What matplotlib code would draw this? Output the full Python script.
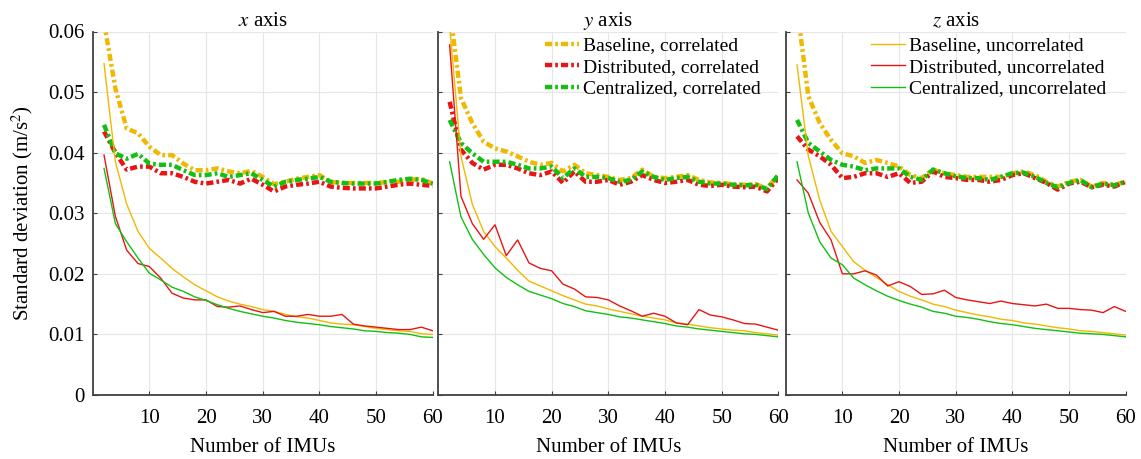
import matplotlib
matplotlib.use("Agg")
import matplotlib.pyplot as plt
import numpy as np

plt.rcParams['font.family'] = ['Liberation Serif', 'DejaVu Serif']
plt.rcParams['mathtext.fontset'] = 'stix'

n_imus = list(range(2, 61, 2))

# x axis
x_bc = [0.0615, 0.0506, 0.0440, 0.0432, 0.0410, 0.0396, 0.0396, 0.0382, 0.0371, 0.0371, 0.0374, 0.0369, 0.0366, 0.0370, 0.0360,
        0.0348, 0.0352, 0.0357, 0.0360, 0.0363, 0.0352, 0.0350, 0.0350, 0.0350, 0.0350, 0.0351, 0.0352, 0.0355, 0.0357, 0.0349]
x_dc = [0.0435, 0.0400, 0.0372, 0.0377, 0.0377, 0.0366, 0.0366, 0.0360, 0.0352, 0.0349, 0.0352, 0.0355, 0.0349, 0.0357, 0.0347,
        0.0336, 0.0344, 0.0347, 0.0349, 0.0352, 0.0344, 0.0342, 0.0341, 0.0341, 0.0341, 0.0344, 0.0347, 0.0349, 0.0347, 0.0345]
x_cc = [0.0446, 0.0399, 0.0390, 0.0398, 0.0382, 0.0380, 0.0380, 0.0371, 0.0363, 0.0363, 0.0366, 0.0360, 0.0363, 0.0366, 0.0355,
        0.0344, 0.0352, 0.0355, 0.0357, 0.0360, 0.0352, 0.0350, 0.0349, 0.0349, 0.0349, 0.0352, 0.0355, 0.0357, 0.0355, 0.0349]
x_bu = [0.0547, 0.0385, 0.0315, 0.0270, 0.0242, 0.0226, 0.0209, 0.0195, 0.0182, 0.0172, 0.0162, 0.0155, 0.0150, 0.0146, 0.0141,
        0.0138, 0.0133, 0.0129, 0.0127, 0.0123, 0.0119, 0.0117, 0.0116, 0.0113, 0.0110, 0.0108, 0.0106, 0.0105, 0.0101, 0.0100]
x_du = [0.0396, 0.0295, 0.0239, 0.0217, 0.0212, 0.0193, 0.0168, 0.0160, 0.0157, 0.0157, 0.0146, 0.0145, 0.0147, 0.0141, 0.0136,
        0.0138, 0.0130, 0.0130, 0.0133, 0.0130, 0.0130, 0.0133, 0.0117, 0.0114, 0.0112, 0.0110, 0.0108, 0.0108, 0.0112, 0.0106]
x_cu = [0.0374, 0.0283, 0.0253, 0.0226, 0.0201, 0.0190, 0.0178, 0.0171, 0.0162, 0.0156, 0.0149, 0.0143, 0.0138, 0.0134, 0.0130,
        0.0127, 0.0123, 0.0120, 0.0118, 0.0116, 0.0113, 0.0111, 0.0109, 0.0106, 0.0105, 0.0103, 0.0102, 0.0100, 0.0096, 0.0095]

# y axis
y_bc = [0.0640, 0.0490, 0.0449, 0.0418, 0.0407, 0.0402, 0.0394, 0.0385, 0.0380, 0.0383, 0.0369, 0.0380, 0.0366, 0.0363, 0.0360,
        0.0355, 0.0358, 0.0372, 0.0360, 0.0358, 0.0360, 0.0363, 0.0355, 0.0351, 0.0350, 0.0348, 0.0347, 0.0348, 0.0341, 0.0363]
y_dc = [0.0484, 0.0405, 0.0383, 0.0372, 0.0380, 0.0380, 0.0374, 0.0366, 0.0363, 0.0369, 0.0350, 0.0369, 0.0352, 0.0352, 0.0355,
        0.0347, 0.0352, 0.0363, 0.0355, 0.0350, 0.0352, 0.0355, 0.0347, 0.0345, 0.0347, 0.0344, 0.0343, 0.0344, 0.0336, 0.0358]
y_cc = [0.0454, 0.0416, 0.0399, 0.0385, 0.0385, 0.0385, 0.0380, 0.0374, 0.0374, 0.0377, 0.0358, 0.0374, 0.0360, 0.0360, 0.0358,
        0.0352, 0.0355, 0.0369, 0.0360, 0.0355, 0.0358, 0.0360, 0.0352, 0.0349, 0.0349, 0.0347, 0.0346, 0.0347, 0.0340, 0.0363]
y_bu = [0.0610, 0.0394, 0.0315, 0.0270, 0.0245, 0.0226, 0.0206, 0.0188, 0.0180, 0.0172, 0.0164, 0.0157, 0.0150, 0.0147, 0.0142,
        0.0138, 0.0134, 0.0130, 0.0127, 0.0124, 0.0119, 0.0117, 0.0114, 0.0111, 0.0109, 0.0107, 0.0106, 0.0103, 0.0101, 0.0099]
y_du = [0.0578, 0.0328, 0.0283, 0.0257, 0.0281, 0.0230, 0.0256, 0.0218, 0.0209, 0.0205, 0.0183, 0.0175, 0.0162, 0.0161, 0.0157,
        0.0147, 0.0139, 0.0130, 0.0135, 0.0130, 0.0119, 0.0116, 0.0141, 0.0132, 0.0129, 0.0124, 0.0118, 0.0117, 0.0112, 0.0107]
y_cu = [0.0385, 0.0294, 0.0257, 0.0232, 0.0210, 0.0194, 0.0182, 0.0171, 0.0165, 0.0159, 0.0151, 0.0146, 0.0139, 0.0136, 0.0133,
        0.0129, 0.0127, 0.0124, 0.0121, 0.0118, 0.0114, 0.0112, 0.0109, 0.0107, 0.0105, 0.0103, 0.0101, 0.0100, 0.0098, 0.0096]

# z axis
z_bc = [0.0640, 0.0493, 0.0449, 0.0421, 0.0399, 0.0394, 0.0383, 0.0388, 0.0383, 0.0377, 0.0363, 0.0358, 0.0372, 0.0366, 0.0363,
        0.0360, 0.0360, 0.0360, 0.0360, 0.0366, 0.0369, 0.0363, 0.0352, 0.0344, 0.0352, 0.0355, 0.0344, 0.0350, 0.0347, 0.0352]
z_dc = [0.0427, 0.0405, 0.0394, 0.0380, 0.0358, 0.0360, 0.0366, 0.0366, 0.0360, 0.0366, 0.0350, 0.0352, 0.0369, 0.0360, 0.0358,
        0.0355, 0.0355, 0.0352, 0.0355, 0.0363, 0.0366, 0.0358, 0.0350, 0.0339, 0.0349, 0.0352, 0.0343, 0.0347, 0.0344, 0.0352]
z_cc = [0.0454, 0.0416, 0.0402, 0.0388, 0.0380, 0.0377, 0.0371, 0.0374, 0.0374, 0.0374, 0.0360, 0.0355, 0.0372, 0.0366, 0.0361,
        0.0358, 0.0358, 0.0355, 0.0360, 0.0366, 0.0367, 0.0360, 0.0350, 0.0343, 0.0350, 0.0355, 0.0343, 0.0349, 0.0346, 0.0352]
z_bu = [0.0545, 0.0394, 0.0322, 0.0270, 0.0245, 0.0220, 0.0206, 0.0194, 0.0182, 0.0171, 0.0163, 0.0157, 0.0150, 0.0146, 0.0140,
        0.0136, 0.0132, 0.0129, 0.0125, 0.0123, 0.0119, 0.0117, 0.0114, 0.0111, 0.0109, 0.0106, 0.0105, 0.0103, 0.0101, 0.0099]
z_du = [0.0355, 0.0333, 0.0285, 0.0256, 0.0200, 0.0200, 0.0205, 0.0198, 0.0180, 0.0187, 0.0179, 0.0166, 0.0167, 0.0173, 0.0161,
        0.0157, 0.0154, 0.0151, 0.0155, 0.0151, 0.0149, 0.0147, 0.0150, 0.0143, 0.0143, 0.0141, 0.0140, 0.0136, 0.0146, 0.0138]
z_cu = [0.0385, 0.0300, 0.0253, 0.0226, 0.0215, 0.0193, 0.0182, 0.0172, 0.0163, 0.0156, 0.0150, 0.0145, 0.0138, 0.0135, 0.0130,
        0.0128, 0.0125, 0.0121, 0.0118, 0.0116, 0.0113, 0.0110, 0.0108, 0.0106, 0.0104, 0.0102, 0.0101, 0.0100, 0.0098, 0.0096]

titles = ["$x$ axis", "$y$ axis", "$z$ axis"]
corr_labels = ["Baseline, correlated", "Distributed, correlated", "Centralized, correlated"]
uncorr_labels = ["Baseline, uncorrelated", "Distributed, uncorrelated", "Centralized, uncorrelated"]
colors = ["#F0B800", "#E81515", "#12C012"]

panels = [(x_bc, x_dc, x_cc, x_bu, x_du, x_cu),
          (y_bc, y_dc, y_cc, y_bu, y_du, y_cu),
          (z_bc, z_dc, z_cc, z_bu, z_du, z_cu)]

fig = plt.figure(figsize=(11.41, 4.59), dpi=100)
lefts = [92.7, 438.3, 785.7]
W, H = 1141, 459
axes = []
for i, l in enumerate(lefts):
    ax = fig.add_axes([l / W, 1 - 395 / H, 340 / W, (395 - 31.5) / H])
    axes.append(ax)

dash = (0, (1.6, 0.7, 0.6, 0.7))
for i, ax in enumerate(axes):
    data = panels[i]
    corr_lines = []
    for k in range(3):
        ln, = ax.plot(n_imus, data[k], color=colors[k], lw=3.2, linestyle=dash, label=corr_labels[k])
        corr_lines.append(ln)
    unc_lines = []
    for k in range(3):
        ln, = ax.plot(n_imus, data[3 + k], color=colors[k], lw=1.0, label=uncorr_labels[k])
        unc_lines.append(ln)

    ax.set_xlim(0, 60)
    ax.set_ylim(0, 0.06)
    ax.set_xticks([10, 20, 30, 40, 50, 60])
    ax.set_yticks([0, 0.01, 0.02, 0.03, 0.04, 0.05, 0.06])
    ax.grid(True, color="#e6e6e6", lw=0.8)
    ax.set_axisbelow(True)
    for s in ["top", "right"]:
        ax.spines[s].set_visible(False)
    for s in ["left", "bottom"]:
        ax.spines[s].set_color("#404040")
        ax.spines[s].set_linewidth(1.3)
    ax.tick_params(direction="in", length=3, color="#404040", labelsize=15)
    ax.tick_params(axis="x", pad=10)
    ax.tick_params(axis="y", pad=6)
    ax.set_xlabel("Number of IMUs", fontsize=15, labelpad=7)
    ax.set_title(titles[i], fontsize=15, pad=3)
    if i == 0:
        ax.set_yticklabels(["0", "0.01", "0.02", "0.03", "0.04", "0.05", "0.06"])
        ax.set_ylabel("Standard deviation (m/s$^2$)", fontsize=15, labelpad=9)
    else:
        ax.set_yticklabels([])
    if i == 1:
        ax.legend(handles=corr_lines, loc="upper left", bbox_to_anchor=(0.315, 0.985), frameon=False,
                  fontsize=14, handlelength=1.75, handletextpad=0.2, labelspacing=0.2,
                  borderpad=0, borderaxespad=0)
    if i == 2:
        ax.legend(handles=unc_lines, loc="upper left", bbox_to_anchor=(0.252, 0.985), frameon=False,
                  fontsize=14, handlelength=1.75, handletextpad=0.2, labelspacing=0.2,
                  borderpad=0, borderaxespad=0)

fig.savefig("out.png", dpi=100)
